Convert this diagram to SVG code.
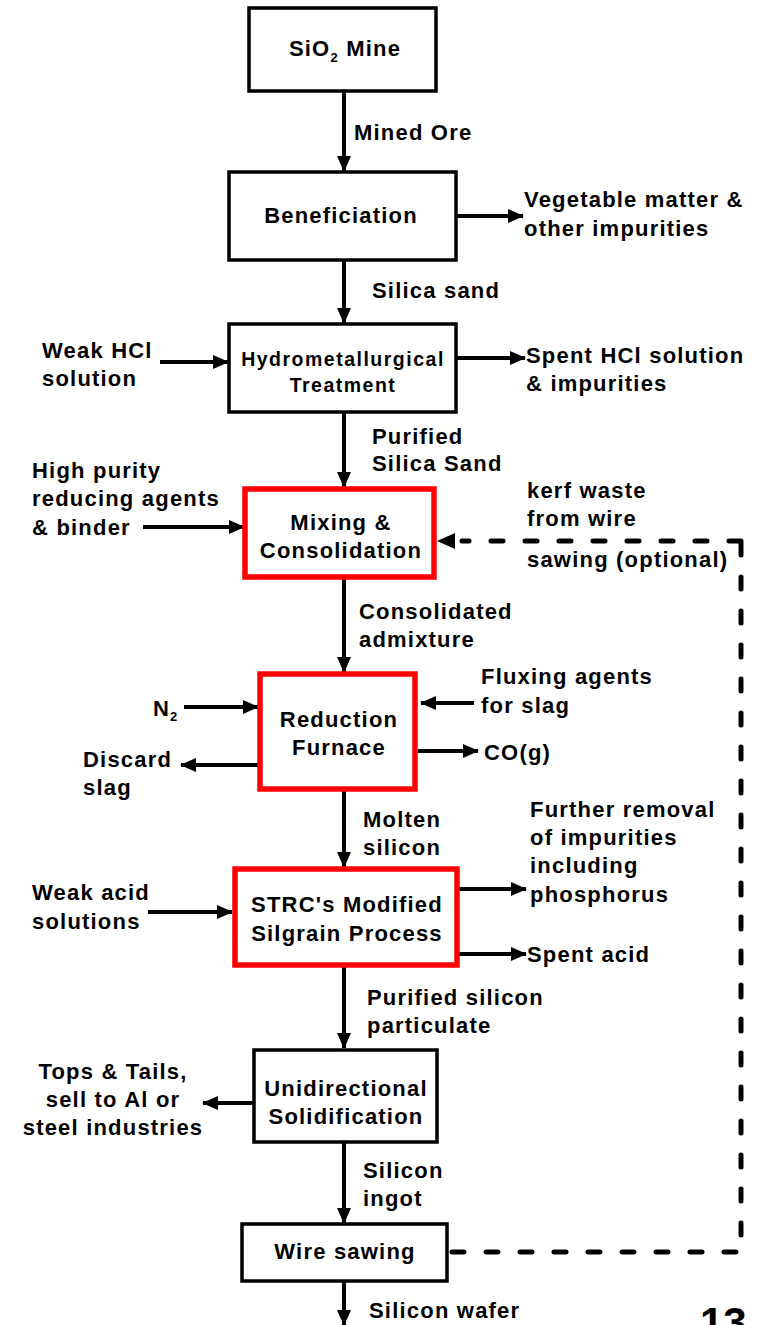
<svg xmlns="http://www.w3.org/2000/svg" width="758" height="1325" viewBox="0 0 758 1325">
<style>
text{font-family:"Liberation Sans",Arial,sans-serif;font-weight:bold;fill:#000}
.t{font-size:22px;letter-spacing:1.2px}
.s{font-size:19.5px;letter-spacing:1.5px}
.c{text-anchor:middle}
.box{fill:#fff;stroke:#000;stroke-width:3.5}
.red{fill:#fff;stroke:#f00;stroke-width:5.5}
.ln{fill:none;stroke:#000;stroke-width:4}
.dash{fill:none;stroke:#000;stroke-width:5;stroke-dasharray:12 22;stroke-linecap:round}
</style>
<defs>
<marker id="ah" markerUnits="userSpaceOnUse" markerWidth="16" markerHeight="14" refX="15" refY="7" orient="auto">
<path d="M0,0 L16,7 L0,14 z" fill="#000"/>
</marker>
</defs>
<g id="connectors">
<line class="ln" x1="344" y1="92" x2="344" y2="171" marker-end="url(#ah)"/>
<line class="ln" x1="456" y1="216" x2="523" y2="216" marker-end="url(#ah)"/>
<line class="ln" x1="344" y1="260" x2="344" y2="323" marker-end="url(#ah)"/>
<line class="ln" x1="160" y1="362" x2="228" y2="362" marker-end="url(#ah)"/>
<line class="ln" x1="456" y1="358" x2="525" y2="358" marker-end="url(#ah)"/>
<line class="ln" x1="344" y1="412" x2="344" y2="487" marker-end="url(#ah)"/>
<line class="ln" x1="143" y1="527" x2="244" y2="527" marker-end="url(#ah)"/>
<line class="ln" x1="344" y1="578" x2="344" y2="672" marker-end="url(#ah)"/>
<line class="ln" x1="184" y1="707" x2="258" y2="707" marker-end="url(#ah)"/>
<line class="ln" x1="258" y1="765" x2="181" y2="765" marker-end="url(#ah)"/>
<line class="ln" x1="474" y1="703" x2="421" y2="703" marker-end="url(#ah)"/>
<line class="ln" x1="418" y1="751" x2="478" y2="751" marker-end="url(#ah)"/>
<line class="ln" x1="344" y1="790" x2="344" y2="867" marker-end="url(#ah)"/>
<line class="ln" x1="148" y1="912" x2="232" y2="912" marker-end="url(#ah)"/>
<line class="ln" x1="459" y1="889" x2="526" y2="889" marker-end="url(#ah)"/>
<line class="ln" x1="459" y1="954" x2="526" y2="954" marker-end="url(#ah)"/>
<line class="ln" x1="344" y1="966" x2="344" y2="1048" marker-end="url(#ah)"/>
<line class="ln" x1="253" y1="1103" x2="203" y2="1103" marker-end="url(#ah)"/>
<line class="ln" x1="344" y1="1142" x2="344" y2="1223" marker-end="url(#ah)"/>
<line class="ln" x1="344" y1="1281" x2="344" y2="1325" marker-end="url(#ah)"/>
<path class="dash" d="M452,1252 H741 V543"/>
<line class="dash" x1="741" y1="541" x2="462" y2="541"/>
<path d="M437,541 L455,533 L455,549 z" fill="#000"/>
</g>
<g id="n_mine">
<rect class="box" x="249" y="8" width="187" height="83"/>
<text class="t" x="345" y="56" text-anchor="middle">SiO<tspan font-size="13" dy="6">2</tspan><tspan dy="-6"> Mine</tspan></text>
</g>
<text class="t" x="354" y="140">Mined Ore</text>
<g id="n_benef">
<rect class="box" x="229" y="172" width="227" height="88"/>
<text class="t c" x="341" y="223">Beneficiation</text>
</g>
<text class="t" x="524" y="207">Vegetable matter &amp;</text>
<text class="t" x="524" y="236">other impurities</text>
<text class="t" x="372" y="298">Silica sand</text>
<g id="n_hydro">
<rect class="box" x="229" y="324" width="227" height="88"/>
<text class="s c" x="343" y="366">Hydrometallurgical</text>
<text class="s c" x="343" y="392">Treatment</text>
</g>
<text class="t" x="42" y="358">Weak HCl</text>
<text class="t" x="42" y="386">solution</text>
<text class="t" x="526" y="363">Spent HCl solution</text>
<text class="t" x="526" y="391">&amp; impurities</text>
<text class="t" x="372" y="444">Purified</text>
<text class="t" x="372" y="471">Silica Sand</text>
<g id="n_mix">
<rect class="red" x="245" y="489" width="189" height="88"/>
<text class="t c" x="341" y="530">Mixing &amp;</text>
<text class="t c" x="341" y="558">Consolidation</text>
</g>
<text class="t" x="32" y="478">High purity</text>
<text class="t" x="32" y="506">reducing agents</text>
<text class="t" x="32" y="535">&amp; binder</text>
<text class="t" x="527" y="498">kerf waste</text>
<text class="t" x="527" y="526">from wire</text>
<text class="t" x="527" y="567">sawing (optional)</text>
<text class="t" x="359" y="619">Consolidated</text>
<text class="t" x="359" y="647">admixture</text>
<g id="n_furnace">
<rect class="red" x="260" y="674" width="155" height="115"/>
<text class="t c" x="339" y="727">Reduction</text>
<text class="t c" x="339" y="755">Furnace</text>
</g>
<text class="t" x="153" y="716">N<tspan font-size="13" dy="5">2</tspan></text>
<text class="t" x="83" y="767">Discard</text>
<text class="t" x="83" y="795">slag</text>
<text class="t" x="481" y="684">Fluxing agents</text>
<text class="t" x="481" y="713">for slag</text>
<text class="t" x="484" y="760">CO(g)</text>
<text class="t" x="363" y="827">Molten</text>
<text class="t" x="363" y="855">silicon</text>
<g id="n_strc">
<rect class="red" x="235" y="869" width="222" height="96"/>
<text class="t c" x="347" y="912">STRC's Modified</text>
<text class="t c" x="347" y="941">Silgrain Process</text>
</g>
<text class="t" x="32" y="900">Weak acid</text>
<text class="t" x="32" y="929">solutions</text>
<text class="t" x="530" y="817">Further removal</text>
<text class="t" x="530" y="845">of impurities</text>
<text class="t" x="530" y="873">including</text>
<text class="t" x="530" y="902">phosphorus</text>
<text class="t" x="527" y="962">Spent acid</text>
<text class="t" x="367" y="1005">Purified silicon</text>
<text class="t" x="367" y="1033">particulate</text>
<g id="n_unidir">
<rect class="box" x="254" y="1050" width="183" height="92"/>
<text class="t c" x="346" y="1096">Unidirectional</text>
<text class="t c" x="346" y="1124">Solidification</text>
</g>
<text class="t c" x="113" y="1079">Tops &amp; Tails,</text>
<text class="t c" x="113" y="1107">sell to Al or</text>
<text class="t c" x="113" y="1135">steel industries</text>
<text class="t" x="363" y="1178">Silicon</text>
<text class="t" x="363" y="1206">ingot</text>
<g id="n_wire">
<rect class="box" x="242" y="1224" width="205" height="57"/>
<text class="t c" x="345" y="1259">Wire sawing</text>
</g>
<text class="t" x="369" y="1318">Silicon wafer</text>
<text x="700" y="1337" font-size="42">13</text>
</svg>
